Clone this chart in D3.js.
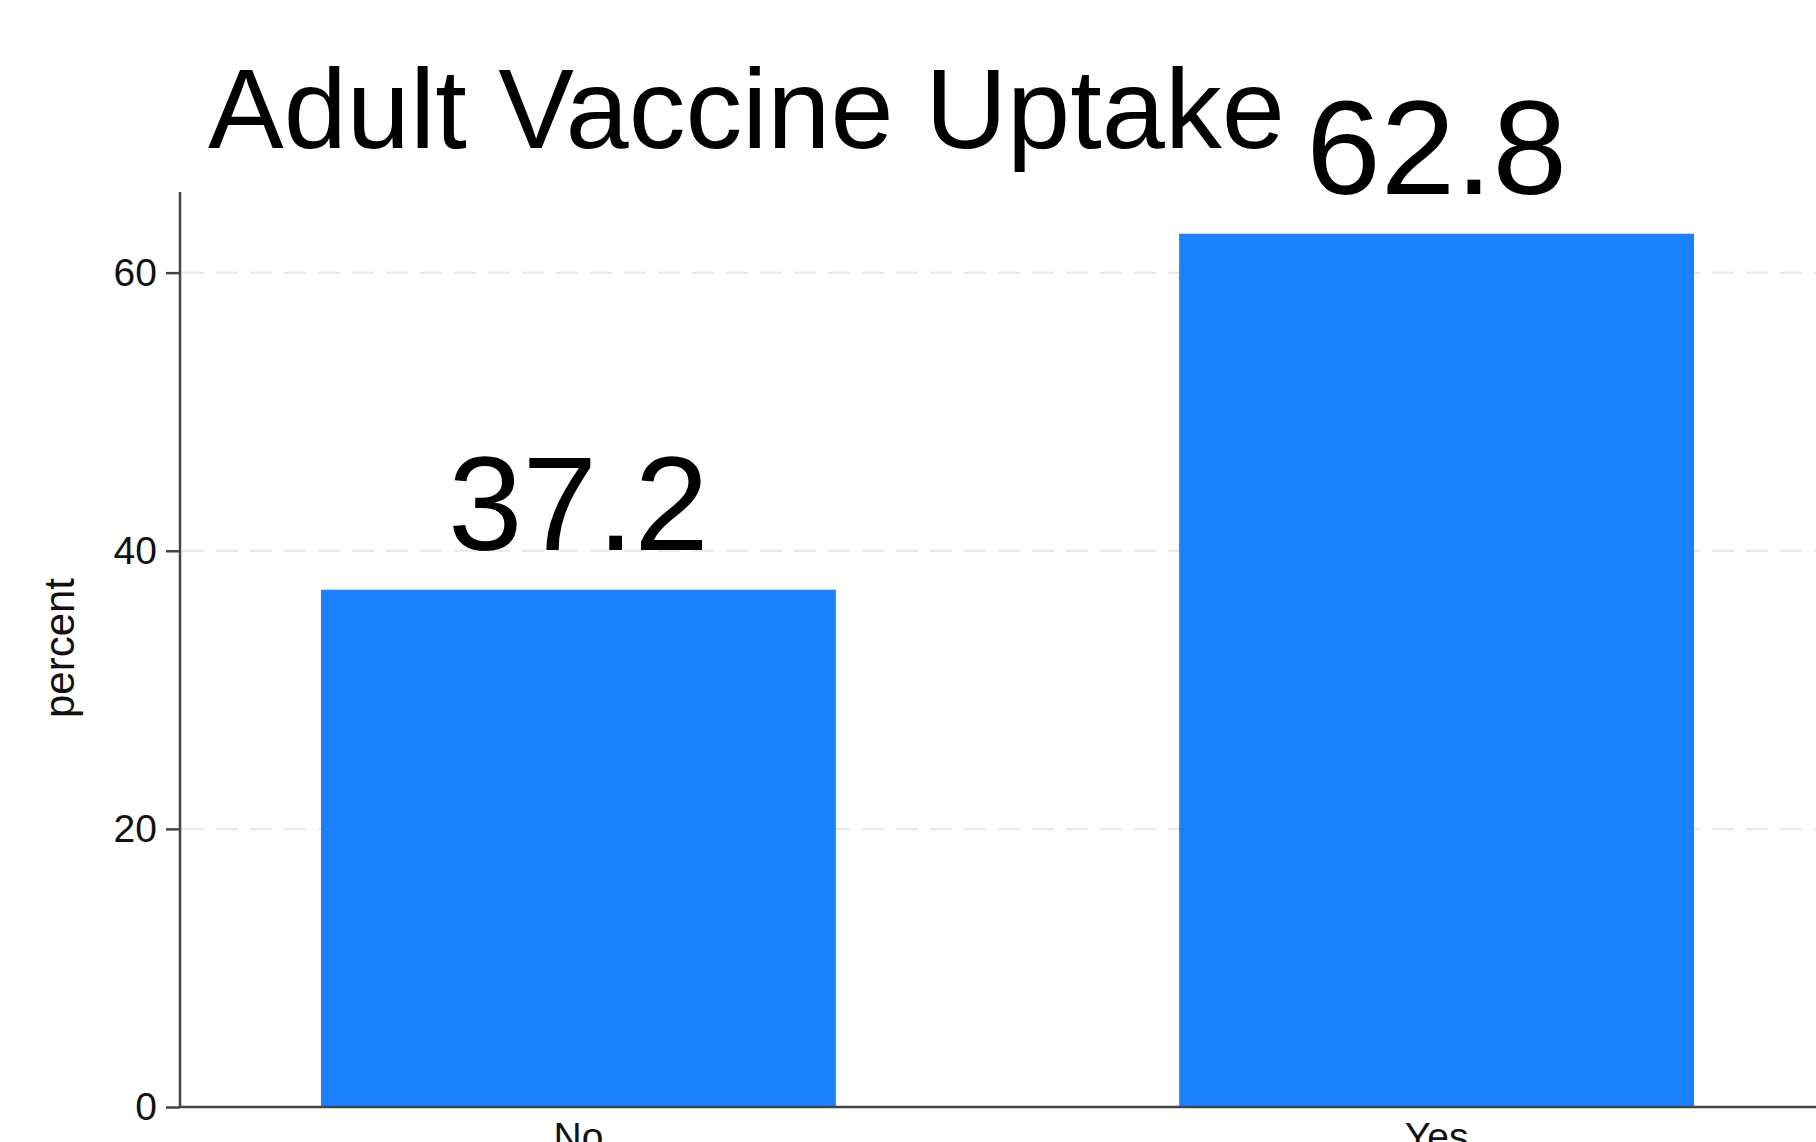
<!DOCTYPE html>
<html>
<head>
<meta charset="utf-8">
<script src="https://cdn.jsdelivr.net/npm/d3@7"></script>
<style>
  html, body { margin: 0; padding: 0; background: #ffffff; overflow: hidden; }
  svg { display: block; font-family: "Liberation Sans", Arial, Helvetica, sans-serif; }
</style>
</head>
<body>
<svg id="chart" width="1816" height="1142"></svg>
<script>
const categories = ["No", "Yes"];
const percentValues = [37.2, 62.8];
const valueLabels = ["37.2", "62.8"];
const yTicks = [0, 20, 40, 60];
const titleText = "Adult Vaccine Uptake";
const yAxisTitle = "percent";

const svg = d3.select("#chart");
const W = 1816, H = 1142;

const x = d3.scaleBand()
  .domain(categories)
  .range([180, 1835])
  .paddingInner(0.4)
  .paddingOuter(0.1643);

const y = d3.scaleLinear()
  .domain([0, 65.8])
  .range([1107, 192]);

// gridlines
svg.append("g")
  .selectAll("line")
  .data(yTicks.filter(d => d > 0))
  .join("line")
  .attr("x1", 182)
  .attr("x2", W)
  .attr("y1", d => y(d))
  .attr("y2", d => y(d))
  .attr("stroke", "#e8e8e8")
  .attr("stroke-width", 2)
  .attr("stroke-dasharray", "22,12");

// bars
svg.append("g")
  .selectAll("rect")
  .data(categories)
  .join("rect")
  .attr("x", d => x(d))
  .attr("width", x.bandwidth())
  .attr("y", (d, i) => y(percentValues[i]))
  .attr("height", (d, i) => y(0) - y(percentValues[i]))
  .attr("fill", "#1b81ff");

// value labels
svg.append("g")
  .selectAll("text")
  .data(categories)
  .join("text")
  .attr("x", d => x(d) + x.bandwidth() / 2)
  .attr("y", (d, i) => y(percentValues[i]) - 40)
  .attr("text-anchor", "middle")
  .attr("font-size", 134)
  .attr("fill", "#000")
  .text((d, i) => valueLabels[i]);

// y axis
const yAxis = d3.axisLeft(y)
  .tickValues(yTicks)
  .tickSize(14)
  .tickPadding(9)
  .tickFormat(d3.format("d"));

const gy = svg.append("g")
  .attr("transform", "translate(180,0)")
  .call(yAxis);
gy.select(".domain").attr("stroke", "#444").attr("stroke-width", 2.5)
  .attr("d", `M0,${y(0)}V${192}`);
gy.selectAll(".tick line").attr("stroke", "#444").attr("stroke-width", 2.5);
gy.selectAll(".tick text")
  .attr("font-size", 39)
  .attr("fill", "#111")
  .attr("font-family", "\"Liberation Sans\", Arial, Helvetica, sans-serif");

// x axis
const xAxis = d3.axisBottom(x).tickSize(0).tickPadding(15);
const gx = svg.append("g")
  .attr("transform", `translate(0,${y(0)})`)
  .call(xAxis);
gx.select(".domain").attr("stroke", "#444").attr("stroke-width", 2.5)
  .attr("d", `M180,0H${W}`);
gx.selectAll(".tick text")
  .attr("font-size", 39)
  .attr("fill", "#111")
  .attr("font-family", "\"Liberation Sans\", Arial, Helvetica, sans-serif");

// y axis title
svg.append("text")
  .attr("transform", "translate(74,648) rotate(-90)")
  .attr("text-anchor", "middle")
  .attr("font-size", 42)
  .attr("fill", "#111")
  .text(yAxisTitle);

// chart title
svg.append("text")
  .attr("x", 208)
  .attr("y", 148)
  .attr("font-size", 113.5)
  .attr("fill", "#000")
  .text(titleText);
</script>
</body>
</html>
